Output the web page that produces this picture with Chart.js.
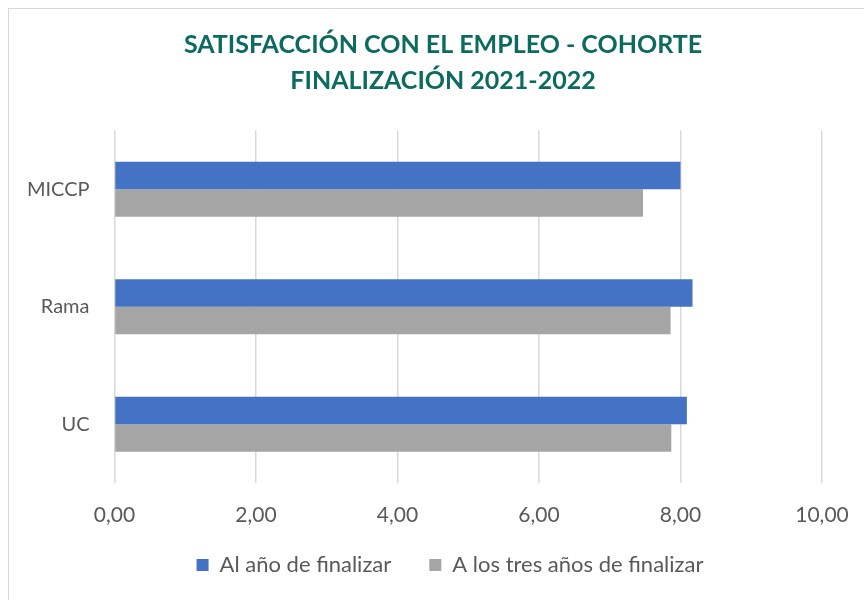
<!DOCTYPE html>
<html>
<head>
<meta charset="utf-8">
<script src="https://cdn.jsdelivr.net/npm/chart.js@4"></script>
<style>
  html, body { margin: 0; padding: 0; background: #fff; }
  #frame { position: absolute; left: 8px; top: 8px; width: 870px; height: 600px; border: 1px solid #d9d9d9; box-sizing: border-box; }
  #wrap { position: absolute; left: 0; top: 0; width: 864px; height: 600px; }
</style>
</head>
<body>
<div id="frame"></div>
<div id="wrap"><canvas id="myChart"></canvas></div>
<script>
const categories = ['MICCP', 'Rama', 'UC'];
const alAnio = [8.00, 8.17, 8.09];
const aTresAnios = [7.47, 7.86, 7.87];
const xTicks = [0, 2, 4, 6, 8, 10];

const fontFamily = 'Lato, "Open Sans", sans-serif';
const ctx = document.getElementById('myChart').getContext('2d');

// pull the legend up a bit closer to the tick labels
const legendShift = {
  id: 'legendShift',
  afterLayout(chart) {
    chart.legend.top -= 14;
    chart.legend.bottom -= 14;
    chart.legend.left += 7;
    chart.legend.right += 7;
  },
};

new Chart(ctx, {
  type: 'bar',
  data: {
    labels: categories,
    datasets: [
      {
        label: 'Al año de finalizar',
        data: alAnio,
        backgroundColor: '#4472C4',
        barPercentage: 1,
        categoryPercentage: 0.47,
      },
      {
        label: 'A los tres años de finalizar',
        data: aTresAnios,
        backgroundColor: '#A5A5A5',
        barPercentage: 1,
        categoryPercentage: 0.47,
      },
    ],
  },
  plugins: [legendShift],
  options: {
    indexAxis: 'y',
    responsive: true,
    maintainAspectRatio: false,
    animation: false,
    layout: { padding: { left: 22, right: 0, top: 0, bottom: 0 } },
    plugins: {
      title: {
        display: true,
        text: ['SATISFACCIÓN CON EL EMPLEO - COHORTE', 'FINALIZACIÓN 2021-2022'],
        color: '#0B6B5F',
        font: { family: fontFamily, size: 25, weight: 'bold', lineHeight: 1.45 },
        padding: { top: 27, bottom: 31 },
      },
      legend: {
        position: 'bottom',
        maxHeight: 72,
        labels: {
          color: '#595959',
          font: { family: fontFamily, size: 22 },
          boxWidth: 12,
          boxHeight: 12,
          padding: 38,
        },
      },
      tooltip: { enabled: false },
    },
    scales: {
      x: {
        min: 0,
        max: 10,
        afterBuildTicks: (axis) => { axis.ticks = xTicks.map(v => ({ value: v })); },
        afterFit: (axis) => { axis.height = 47; axis.paddingRight = 42; },
        ticks: {
          color: '#595959',
          font: { family: fontFamily, size: 21 },
          padding: 20,
          callback: (v) => Number(v).toFixed(2).replace('.', ','),
        },
        grid: { color: '#d9d9d9', lineWidth: 1.5, drawTicks: false },
        border: { display: false },
      },
      y: {
        afterFit: (axis) => { axis.width = 92.5; },
        ticks: {
          color: '#595959',
          font: { family: fontFamily, size: 20 },
          padding: 17,
        },
        grid: { display: false },
        border: { display: false },
      },
    },
  },
});
</script>
</body>
</html>
